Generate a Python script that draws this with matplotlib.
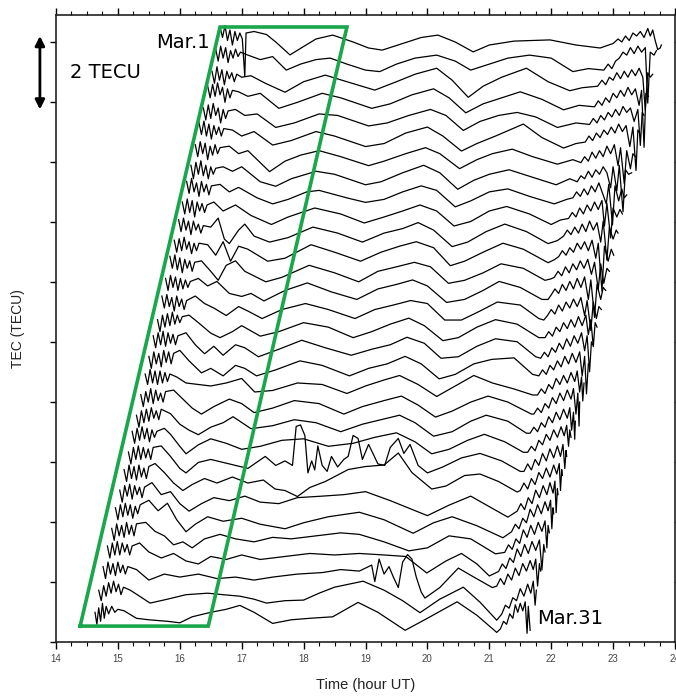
import numpy as np
import matplotlib
matplotlib.use("Agg")
import matplotlib.pyplot as plt

# ---------------- data: (hour UT, TEC deviation in TECU) for each day ----------------
mar01 = [(16.65,.50),(16.69,.15),(16.73,.55),(16.77,.05),(16.81,.40),(16.85,-.10),(16.89,.35),(16.93,.05),(16.97,.30),(17.01,.10),(17.05,-1.15),(17.07,.30),(17.20,.35),(17.40,.25),(17.55,.00),(17.78,-.43),(18.00,-.15),(18.20,.10),(18.47,.23),(18.80,.00),(19.05,-.20),(19.27,-.27),(19.60,-.05),(19.90,.15),(20.17,.23),(20.45,.00),(20.74,-.33),(21.00,-.10),(21.40,.03),(21.98,.07),(22.40,-.10),(22.79,-.20),(23.00,-.05),(23.08,.10),(23.14,.00),(23.20,.20),(23.26,.05),(23.32,.30),(23.38,.20),(23.44,.35),(23.50,.15),(23.56,.45),(23.60,.20),(23.64,.40),(23.68,.05),(23.72,-.25),(23.76,-.20),(23.78,-.10)]
mar02 = [(16.58,.40),(16.62,.00),(16.66,.50),(16.70,.10),(16.74,.45),(16.78,-.05),(16.82,.35),(16.86,.10),(16.90,.40),(16.94,.15),(16.98,.30),(17.10,.20),(17.30,.05),(17.50,.15),(17.72,-.30),(17.95,-.10),(18.20,.05),(18.43,.10),(18.70,-.10),(19.00,-.30),(19.23,-.35),(19.50,-.10),(19.80,.10),(20.15,.20),(20.45,.00),(20.70,-.30),(21.00,-.10),(21.30,.10),(21.65,.20),(22.00,.10),(22.35,-.35),(22.60,-.25),(22.85,-.30),(22.92,-.10),(22.98,-.25),(23.04,.00),(23.10,.10),(23.16,.30),(23.22,.20),(23.28,.45),(23.34,.25),(23.40,.50),(23.46,.30),(23.52,.45),(23.56,-1.40),(23.60,.30),(23.66,.20),(23.70,.35)]
mar03 = [(16.52,.30),(16.56,-.10),(16.60,.45),(16.64,.00),(16.68,.35),(16.72,-.15),(16.76,.30),(16.80,.05),(16.84,.25),(16.88,-.05),(16.92,.20),(17.00,.10),(17.15,.15),(17.38,-.10),(17.70,-.40),(18.00,-.05),(18.35,.17),(18.70,-.05),(19.15,-.33),(19.50,-.05),(19.80,.20),(20.15,.40),(20.40,.00),(20.66,-.57),(20.90,-.20),(21.20,.10),(21.60,.40),(21.95,-.05),(22.30,-.35),(22.50,-.25),(22.75,-.20),(22.82,.00),(22.88,-.15),(22.94,.10),(23.00,.00),(23.06,.25),(23.12,.05),(23.18,.30),(23.24,.10),(23.30,.35),(23.36,.15),(23.42,.40),(23.48,.10),(23.52,-1.00),(23.56,.25),(23.60,.10),(23.64,.20)]
mar04 = [(16.45,.45),(16.49,.05),(16.53,.50),(16.57,.10),(16.61,.55),(16.65,.15),(16.69,.40),(16.73,-.10),(16.77,.35),(16.81,.05),(16.85,.30),(16.95,.25),(17.10,.10),(17.30,.20),(17.60,-.30),(17.90,-.10),(18.30,.20),(18.60,.05),(19.10,-.30),(19.40,-.15),(19.75,.15),(20.10,.35),(20.35,.05),(20.62,-.45),(20.90,-.15),(21.20,.05),(21.50,.25),(21.85,.00),(22.20,-.35),(22.45,-.20),(22.70,-.25),(22.76,-.05),(22.82,-.20),(22.88,.05),(22.94,-.10),(23.00,.20),(23.06,.05),(23.12,.30),(23.18,.10),(23.24,.40),(23.30,.15),(23.36,.35),(23.42,-.20),(23.46,.30),(23.50,-1.60),(23.53,.20),(23.57,.10)]
mar05 = [(16.38,.35),(16.42,-.05),(16.46,.45),(16.50,.00),(16.54,.50),(16.58,.10),(16.62,.35),(16.66,-.15),(16.70,.30),(16.74,.00),(16.78,.25),(16.90,.30),(17.05,.10),(17.25,.15),(17.55,-.30),(17.85,-.15),(18.25,.15),(18.55,.10),(19.05,-.25),(19.35,-.15),(19.70,.10),(20.05,.30),(20.30,.10),(20.58,-.40),(20.85,-.10),(21.15,.10),(21.45,.20),(21.75,.05),(22.10,-.30),(22.40,-.15),(22.62,-.20),(22.68,.00),(22.74,-.15),(22.80,.10),(22.86,-.05),(22.92,.20),(22.98,.05),(23.04,.30),(23.10,.10),(23.16,.40),(23.22,.20),(23.28,.35),(23.34,-.10),(23.40,.30),(23.44,-.90),(23.47,.20),(23.50,.10)]
mar06 = [(16.31,.50),(16.35,.10),(16.39,.55),(16.43,.05),(16.47,.45),(16.51,-.05),(16.55,.40),(16.59,.10),(16.63,.35),(16.67,.05),(16.71,.30),(16.85,.25),(17.00,.05),(17.20,.20),(17.50,-.25),(17.80,-.10),(18.20,.20),(18.50,.05),(19.00,-.30),(19.30,-.20),(19.65,.15),(20.00,.35),(20.25,.05),(20.55,-.45),(20.80,-.20),(21.10,.05),(21.55,.45),(21.85,.00),(22.20,-.35),(22.40,-.20),(22.55,-.15),(22.61,.05),(22.67,-.10),(22.73,.15),(22.79,.00),(22.85,.25),(22.91,.10),(22.97,.35),(23.03,.15),(23.09,.45),(23.15,.20),(23.21,.40),(23.27,-.30),(23.32,.35),(23.37,-1.10),(23.40,.25),(23.43,.15)]
mar07 = [(16.25,.40),(16.29,.00),(16.33,.50),(16.37,.10),(16.41,.45),(16.45,-.10),(16.49,.35),(16.53,.05),(16.57,.40),(16.61,.10),(16.65,.30),(16.80,.35),(16.95,.10),(17.10,.20),(17.45,-.50),(17.70,-.15),(17.95,.05),(18.25,.20),(18.60,.00),(19.05,-.30),(19.30,-.15),(19.65,.10),(19.97,.30),(20.20,.10),(20.52,-.40),(20.80,-.10),(21.05,.10),(21.37,.25),(21.70,.00),(22.10,-.25),(22.35,-.10),(22.48,-.20),(22.54,.00),(22.60,-.15),(22.66,.15),(22.72,-.05),(22.78,.20),(22.84,.00),(22.90,.35),(22.96,.10),(23.02,.40),(23.08,-.30),(23.12,.30),(23.18,-.90),(23.22,.20),(23.28,-.40),(23.32,.10),(23.36,.00)]
mar08 = [(16.18,.35),(16.22,-.10),(16.26,.45),(16.30,.05),(16.34,.50),(16.38,.00),(16.42,.35),(16.46,-.10),(16.50,.30),(16.54,.05),(16.58,.25),(16.70,.30),(16.85,.15),(17.00,.30),(17.30,-.20),(17.55,-.35),(17.80,-.10),(18.20,.15),(18.50,.05),(19.00,-.30),(19.25,-.20),(19.60,.10),(19.94,.35),(20.20,.10),(20.49,-.45),(20.75,-.15),(21.00,.05),(21.32,.20),(21.70,-.05),(22.08,-.30),(22.30,-.10),(22.42,-.20),(22.48,.00),(22.54,-.10),(22.60,.15),(22.66,-.05),(22.72,.20),(22.78,.05),(22.84,.30),(22.90,.10),(22.96,-.40),(23.00,.30),(23.06,-.50),(23.10,.35),(23.16,-1.20),(23.20,.20),(23.25,.05),(23.30,.10)]
mar09 = [(16.11,.45),(16.15,.05),(16.19,.55),(16.23,.10),(16.27,.40),(16.31,-.05),(16.35,.45),(16.39,.10),(16.43,.35),(16.47,.00),(16.51,.30),(16.65,.35),(16.80,.10),(16.95,.25),(17.25,-.10),(17.50,-.30),(17.75,-.15),(18.05,.10),(18.25,.15),(18.70,-.10),(19.00,-.25),(19.30,-.15),(19.60,.10),(19.90,.30),(20.15,.15),(20.45,-.40),(20.70,-.20),(21.00,.10),(21.30,.20),(21.65,-.05),(22.05,-.30),(22.25,-.15),(22.35,-.10),(22.41,.10),(22.47,-.05),(22.53,.20),(22.59,.00),(22.65,.30),(22.71,.10),(22.77,.40),(22.83,.05),(22.89,-.30),(22.93,.35),(22.99,-1.00),(23.03,.30),(23.09,-.20),(23.14,.20),(23.18,-.10),(23.22,.00)]
mar10 = [(16.04,.40),(16.08,.00),(16.12,.50),(16.16,.05),(16.20,.45),(16.24,-.10),(16.28,.40),(16.32,.10),(16.36,.35),(16.40,.05),(16.44,.30),(16.55,.40),(16.70,.10),(16.90,.30),(17.15,-.05),(17.48,-.35),(17.75,-.10),(18.18,.20),(18.60,.00),(18.98,-.30),(19.30,-.10),(19.60,.10),(19.88,.30),(20.15,.10),(20.43,-.40),(20.70,-.25),(21.00,.10),(21.28,.25),(21.65,.00),(22.00,-.35),(22.15,-.20),(22.28,-.15),(22.34,.05),(22.40,-.10),(22.46,.20),(22.52,.00),(22.58,.30),(22.64,.10),(22.70,.40),(22.76,.15),(22.82,.45),(22.86,-.40),(22.90,.35),(22.96,-.80),(23.00,.20),(23.06,-.10),(23.11,.15),(23.15,.00)]
mar11 = [(15.98,.45),(16.02,.05),(16.06,.50),(16.10,.10),(16.14,.40),(16.18,-.05),(16.22,.40),(16.26,.10),(16.30,.30),(16.34,.00),(16.38,.25),(16.50,.20),(16.62,.50),(16.72,-.20),(16.80,-.35),(16.95,.10),(17.05,.30),(17.20,-.10),(17.45,-.30),(17.75,-.15),(18.15,.20),(18.55,.00),(18.95,-.30),(19.30,.00),(19.60,.15),(19.85,.35),(20.10,.10),(20.40,-.45),(20.65,-.30),(20.95,.05),(21.25,.30),(21.60,.05),(21.95,-.35),(22.10,-.25),(22.20,-.10),(22.26,.10),(22.32,-.05),(22.38,.20),(22.44,.00),(22.50,.30),(22.56,.05),(22.62,.40),(22.68,.10),(22.74,.35),(22.80,-.30),(22.84,.40),(22.90,-.90),(22.94,.20),(23.00,-.20),(23.05,.10),(23.08,.00)]
mar12 = [(15.91,.40),(15.95,.00),(15.99,.45),(16.03,.05),(16.07,.50),(16.11,.10),(16.15,.35),(16.19,-.05),(16.23,.30),(16.27,.05),(16.31,.30),(16.45,.25),(16.58,-.10),(16.70,.35),(16.82,-.30),(16.95,.20),(17.10,.10),(17.42,-.30),(17.70,-.20),(18.12,.25),(18.50,.00),(18.92,-.30),(19.25,.00),(19.55,.20),(19.82,.35),(20.10,.15),(20.37,-.45),(20.60,-.30),(20.90,.00),(21.22,.30),(21.55,.10),(21.95,-.35),(22.05,-.25),(22.12,-.15),(22.18,.05),(22.24,-.10),(22.30,.15),(22.36,.00),(22.42,.30),(22.48,.10),(22.54,.35),(22.60,.05),(22.66,.40),(22.72,-.20),(22.76,.30),(22.82,-1.30),(22.86,.20),(22.92,-.30),(22.97,.10),(23.01,-.10)]
mar13 = [(15.84,.50),(15.88,.10),(15.92,.55),(15.96,.05),(16.00,.45),(16.04,-.05),(16.08,.40),(16.12,.10),(16.16,.35),(16.20,.00),(16.24,.30),(16.35,.35),(16.50,.00),(16.62,-.30),(16.75,.20),(16.90,.35),(17.05,.00),(17.39,-.35),(17.65,-.20),(18.09,.20),(18.50,-.05),(18.89,-.35),(19.20,.00),(19.50,.15),(19.79,.30),(20.05,.15),(20.34,-.40),(20.60,-.30),(20.90,-.05),(21.19,.25),(21.55,.10),(21.90,-.30),(22.00,-.25),(22.05,-.20),(22.11,.00),(22.17,-.15),(22.23,.15),(22.29,-.05),(22.35,.25),(22.41,.05),(22.47,.35),(22.53,.10),(22.59,.40),(22.65,-.10),(22.70,.30),(22.76,-.60),(22.80,.25),(22.85,-.40),(22.90,.10),(22.94,.00)]
mar14 = [(15.77,.40),(15.81,.00),(15.85,.50),(15.89,.10),(15.93,.45),(15.97,.00),(16.01,.40),(16.05,.05),(16.09,.35),(16.13,.10),(16.17,.30),(16.30,.40),(16.45,.15),(16.60,.30),(16.80,-.10),(17.00,-.20),(17.15,-.10),(17.36,-.35),(17.70,.00),(18.06,.25),(18.45,-.05),(18.86,-.30),(19.20,.05),(19.50,.20),(19.76,.35),(20.00,.15),(20.31,-.40),(20.60,-.30),(20.90,.00),(21.16,.30),(21.50,.10),(21.85,-.30),(21.95,-.30),(22.00,-.15),(22.06,.05),(22.12,-.10),(22.18,.20),(22.24,.00),(22.30,.30),(22.36,.05),(22.42,.40),(22.48,.10),(22.54,.45),(22.60,-.30),(22.64,.35),(22.70,-.90),(22.74,.20),(22.80,-.30),(22.84,.10),(22.88,.00)]
mar15 = [(15.71,.45),(15.75,.05),(15.79,.50),(15.83,.10),(15.87,.40),(15.91,-.05),(15.95,.45),(15.99,.10),(16.03,.35),(16.07,.00),(16.11,.30),(16.25,.45),(16.40,.20),(16.55,.05),(16.75,-.20),(16.95,.10),(17.10,-.05),(17.33,-.30),(17.65,.00),(18.03,.20),(18.40,.00),(18.83,-.30),(19.15,.00),(19.45,.15),(19.73,.30),(20.00,.20),(20.28,-.35),(20.55,-.35),(20.85,-.05),(21.13,.25),(21.50,.15),(21.80,-.30),(21.88,-.35),(21.94,-.20),(22.00,.00),(22.06,-.15),(22.12,.15),(22.18,-.05),(22.24,.25),(22.30,.05),(22.36,.35),(22.42,.10),(22.48,.40),(22.54,-.20),(22.58,.30),(22.64,-.70),(22.68,.25),(22.73,-.30),(22.77,.10),(22.81,.00)]
mar16 = [(15.64,.30),(15.68,-.10),(15.72,.45),(15.76,.05),(15.80,.50),(15.84,.10),(15.88,.55),(15.92,.15),(15.96,.45),(16.00,.20),(16.04,.40),(16.15,.45),(16.30,.20),(16.50,-.15),(16.65,-.30),(16.85,-.10),(17.00,.10),(17.30,-.25),(17.60,-.10),(18.00,.20),(18.40,.05),(18.80,-.30),(19.10,-.10),(19.40,.15),(19.70,.35),(19.95,.10),(20.25,-.40),(20.50,-.30),(20.80,.05),(21.10,.30),(21.45,.15),(21.80,-.30),(21.90,-.30),(21.96,-.10),(22.02,-.25),(22.08,.05),(22.14,-.10),(22.20,.20),(22.26,.00),(22.32,.30),(22.38,.05),(22.44,.40),(22.50,.10),(22.56,.45),(22.60,-.20),(22.64,.30),(22.68,-.60),(22.71,.20),(22.74,.05)]
mar17 = [(15.57,.40),(15.61,.00),(15.65,.50),(15.69,.10),(15.73,.55),(15.77,.05),(15.81,.50),(15.85,.15),(15.89,.45),(15.93,.10),(15.97,.40),(16.10,.50),(16.25,.10),(16.40,-.20),(16.55,.05),(16.70,-.25),(16.90,.10),(17.05,.00),(17.27,-.30),(17.60,-.05),(17.97,.25),(18.35,.00),(18.77,-.25),(19.10,-.05),(19.40,.10),(19.67,.35),(19.95,.15),(20.22,-.35),(20.50,-.30),(20.80,.05),(21.10,.30),(21.45,.20),(21.75,-.30),(21.83,-.35),(21.89,-.15),(21.95,-.30),(22.01,.00),(22.07,-.15),(22.13,.15),(22.19,-.05),(22.25,.30),(22.31,.05),(22.37,.40),(22.43,.15),(22.49,.50),(22.54,-.10),(22.58,.40),(22.62,-.80),(22.65,.20),(22.67,.10)]
mar18 = [(15.50,.35),(15.54,-.05),(15.58,.50),(15.62,.10),(15.66,.45),(15.70,.00),(15.74,.55),(15.78,.15),(15.82,.50),(15.86,.10),(15.90,.45),(16.00,.55),(16.15,.20),(16.35,-.20),(16.50,-.05),(16.70,-.30),(16.90,.05),(17.05,-.05),(17.24,-.30),(17.55,-.10),(17.94,.20),(18.30,.05),(18.74,-.30),(19.05,-.05),(19.35,.10),(19.64,.35),(19.90,.10),(20.19,-.40),(20.45,-.25),(20.75,.10),(21.04,.25),(21.40,.30),(21.70,-.25),(21.80,-.30),(21.86,-.10),(21.92,-.25),(21.98,.05),(22.04,-.10),(22.10,.20),(22.16,.00),(22.22,.35),(22.28,.10),(22.34,.45),(22.40,.15),(22.46,.50),(22.50,-.30),(22.54,.35),(22.57,-.90),(22.60,.10)]
mar19 = [(15.44,.40),(15.48,.05),(15.52,.55),(15.56,.10),(15.60,.50),(15.64,.05),(15.68,.50),(15.72,.10),(15.76,.45),(15.80,.15),(15.84,.40),(15.95,.30),(16.10,.10),(16.30,.05),(16.50,.00),(16.75,.10),(17.00,.25),(17.21,-.20),(17.50,-.15),(17.90,.10),(18.30,.05),(18.70,-.25),(19.00,.00),(19.30,.20),(19.55,.35),(19.85,.05),(20.15,-.35),(20.45,.00),(20.75,.35),(21.05,.10),(21.40,-.10),(21.70,-.30),(21.78,-.30),(21.84,-.10),(21.90,-.25),(21.96,.05),(22.02,-.10),(22.08,.25),(22.14,.05),(22.20,.35),(22.26,.10),(22.32,.45),(22.38,.15),(22.42,.50),(22.46,-.20),(22.49,.30),(22.51,-.50),(22.53,.10)]
mar20 = [(15.37,.35),(15.41,-.05),(15.45,.45),(15.49,.10),(15.53,.55),(15.57,.05),(15.61,.50),(15.65,.15),(15.69,.40),(15.73,.10),(15.77,.45),(15.90,.50),(16.05,.20),(16.20,-.10),(16.35,-.30),(16.55,-.05),(16.80,.20),(17.00,.05),(17.20,-.25),(17.50,-.10),(17.85,.15),(18.25,.05),(18.65,-.30),(18.95,-.05),(19.30,.15),(19.58,.30),(19.85,.00),(20.13,-.40),(20.40,-.20),(20.70,.10),(20.98,.30),(21.30,.10),(21.68,-.30),(21.72,-.30),(21.78,-.10),(21.84,-.25),(21.90,.05),(21.96,-.10),(22.02,.25),(22.08,.05),(22.14,.40),(22.20,.15),(22.26,.50),(22.32,.20),(22.36,.55),(22.40,-.30),(22.43,.40),(22.45,-.70),(22.46,.10)]
mar21 = [(15.30,.30),(15.34,-.10),(15.38,.45),(15.42,.05),(15.46,.50),(15.50,.10),(15.54,.55),(15.58,.20),(15.62,.45),(15.66,.15),(15.70,.50),(15.85,.35),(16.00,.00),(16.15,-.20),(16.30,-.35),(16.50,-.10),(16.70,.05),(16.86,.25),(17.15,-.15),(17.50,-.05),(17.85,.15),(18.20,.05),(18.60,-.25),(18.95,.00),(19.25,.15),(19.55,.30),(19.80,.05),(20.10,-.40),(20.40,-.25),(20.70,.10),(20.95,.30),(21.30,.10),(21.60,-.30),(21.66,-.30),(21.72,-.10),(21.78,-.25),(21.84,.05),(21.90,-.10),(21.96,.25),(22.02,.05),(22.08,.40),(22.14,.15),(22.20,.50),(22.26,.20),(22.30,.55),(22.33,-.20),(22.36,.40),(22.38,-.50),(22.39,.10)]
mar22 = [(15.23,.40),(15.27,.00),(15.31,.50),(15.35,.10),(15.39,.55),(15.43,.15),(15.47,.50),(15.51,.05),(15.55,.45),(15.59,.20),(15.63,.40),(15.75,.50),(15.85,.30),(16.00,-.10),(16.10,-.35),(16.30,-.05),(16.50,.15),(16.75,.00),(17.00,-.20),(17.30,-.10),(17.65,.10),(18.00,.15),(18.40,-.10),(18.80,.00),(19.15,.20),(19.50,.35),(19.80,.05),(20.07,-.35),(20.35,-.20),(20.65,.10),(20.92,.30),(21.25,.05),(21.55,-.30),(21.62,-.30),(21.68,-.10),(21.74,-.25),(21.80,.10),(21.86,-.05),(21.92,.30),(21.98,.10),(22.04,.45),(22.10,.20),(22.16,.55),(22.21,.25),(22.25,.60),(22.28,-.10),(22.30,.45),(22.32,.20)]
mar23 = [(15.17,.35),(15.21,-.05),(15.25,.50),(15.29,.10),(15.33,.55),(15.37,.10),(15.41,.50),(15.45,.15),(15.49,.45),(15.53,.10),(15.57,.50),(15.70,.55),(15.85,.20),(16.00,-.20),(16.10,-.35),(16.30,.00),(16.50,.10),(16.80,-.05),(17.10,-.20),(17.38,.20),(17.55,-.10),(17.70,.05),(17.82,-.10),(17.88,1.20),(17.95,1.25),(18.02,.90),(18.07,-.35),(18.13,.05),(18.18,-.25),(18.23,.55),(18.30,-.10),(18.38,-.30),(18.45,.20),(18.55,-.15),(18.65,.10),(18.72,.20),(18.80,.90),(18.88,.80),(18.95,.10),(19.05,.60),(19.12,.30),(19.20,-.05),(19.31,-.10),(19.40,.50),(19.53,.80),(19.62,.30),(19.72,.60),(19.85,-.10),(20.00,-.35),(20.25,-.15),(20.55,.15),(20.85,.30),(21.20,.05),(21.50,-.30),(21.56,-.30),(21.62,-.05),(21.68,-.25),(21.74,.10),(21.80,-.10),(21.86,.30),(21.92,.05),(21.98,.45),(22.04,.15),(22.10,.55),(22.15,.20),(22.19,.60),(22.22,-.20),(22.24,.40),(22.25,.20)]
mar24 = [(15.10,.40),(15.14,.00),(15.18,.55),(15.22,.10),(15.26,.50),(15.30,.05),(15.34,.55),(15.38,.15),(15.42,.45),(15.46,.10),(15.50,.50),(15.60,.60),(15.75,.30),(15.90,-.05),(16.05,-.30),(16.20,-.10),(16.40,.10),(16.60,-.05),(16.85,.15),(17.10,-.05),(17.35,.05),(17.54,-.25),(17.70,-.30),(17.90,-.50),(18.10,-.20),(18.35,.00),(18.72,.40),(19.00,.50),(19.30,.55),(19.53,.95),(19.75,.30),(20.07,-.25),(20.30,-.15),(20.60,.20),(20.85,.25),(21.15,.00),(21.45,-.35),(21.50,-.30),(21.56,-.05),(21.62,-.25),(21.68,.10),(21.74,-.10),(21.80,.30),(21.86,.10),(21.92,.45),(21.98,.15),(22.04,.55),(22.09,.25),(22.13,.60),(22.15,-.30),(22.17,.40),(22.18,.20)]
mar25 = [(15.03,.35),(15.07,-.05),(15.11,.50),(15.15,.15),(15.19,.55),(15.23,.05),(15.27,.50),(15.31,.20),(15.35,.45),(15.39,.10),(15.43,.45),(15.55,.60),(15.70,.20),(15.85,.30),(16.00,-.10),(16.15,-.35),(16.35,-.10),(16.55,.10),(16.80,.00),(17.05,.15),(17.30,-.05),(17.60,-.10),(17.90,.10),(18.30,.15),(18.65,.20),(19.00,.30),(19.40,.00),(20.00,-.50),(20.35,-.15),(20.70,.15),(21.00,-.20),(21.30,-.55),(21.45,-.35),(21.51,-.10),(21.57,-.30),(21.63,.10),(21.69,-.10),(21.75,.35),(21.81,.10),(21.87,.50),(21.93,.20),(21.98,.60),(22.03,.25),(22.06,.65),(22.08,-.40),(22.10,.40),(22.11,.20)]
mar26 = [(14.96,.40),(15.00,.00),(15.04,.50),(15.08,.10),(15.12,.55),(15.16,.15),(15.20,.50),(15.24,.05),(15.28,.45),(15.32,.20),(15.36,.50),(15.50,.65),(15.65,.30),(15.80,.55),(15.95,.00),(16.10,-.40),(16.25,-.15),(16.45,.10),(16.70,-.05),(17.00,.05),(17.30,-.15),(17.70,-.30),(18.00,-.10),(18.40,.10),(18.90,.25),(19.30,.00),(19.77,-.45),(20.10,-.10),(20.40,.10),(20.80,-.20),(21.22,-.60),(21.36,-.40),(21.42,-.15),(21.48,-.30),(21.54,.05),(21.60,-.10),(21.66,.35),(21.72,.10),(21.78,.50),(21.84,.20),(21.90,.60),(21.95,.30),(21.99,.65),(22.01,-.30),(22.03,.40),(22.04,.20)]
mar27 = [(14.90,.35),(14.94,-.05),(14.98,.50),(15.02,.10),(15.06,.45),(15.10,.05),(15.14,.55),(15.18,.15),(15.22,.45),(15.26,.10),(15.30,.50),(15.45,.55),(15.60,.25),(15.75,.10),(15.90,-.20),(16.05,-.10),(16.20,-.30),(16.40,.00),(16.65,.15),(16.90,.00),(17.20,-.10),(17.50,.05),(17.80,.00),(18.20,.10),(18.60,.20),(18.90,.15),(19.30,-.10),(19.70,-.40),(20.00,-.30),(20.35,.10),(20.70,.00),(21.10,-.50),(21.25,-.45),(21.31,-.20),(21.37,-.35),(21.43,.00),(21.49,-.15),(21.55,.30),(21.61,.05),(21.67,.45),(21.73,.15),(21.79,.55),(21.85,.25),(21.90,.60),(21.93,-.30),(21.95,.45),(21.97,.20)]
mar28 = [(14.83,.40),(14.87,.00),(14.91,.50),(14.95,.10),(14.99,.55),(15.03,.10),(15.07,.50),(15.11,.20),(15.15,.45),(15.19,.10),(15.23,.40),(15.35,.50),(15.50,.20),(15.70,.00),(15.90,.15),(16.10,-.10),(16.30,-.20),(16.50,.05),(16.75,-.05),(17.00,.10),(17.30,-.05),(17.70,.05),(18.10,.15),(18.50,.10),(18.90,.15),(19.30,.10),(19.65,.05),(19.99,-.50),(20.30,-.10),(20.55,.15),(20.80,-.20),(21.00,-.60),(21.15,-.45),(21.21,-.20),(21.27,-.35),(21.33,.00),(21.39,-.15),(21.45,.30),(21.51,.05),(21.57,.45),(21.63,.15),(21.69,.55),(21.75,.25),(21.81,.60),(21.85,-.40),(21.88,.45),(21.90,.20)]
mar29 = [(14.76,.35),(14.80,-.05),(14.84,.50),(14.88,.10),(14.92,.45),(14.96,.05),(15.00,.50),(15.04,.15),(15.08,.40),(15.12,.10),(15.16,.35),(15.30,.25),(15.50,-.10),(15.75,.10),(16.00,.00),(16.30,.10),(16.60,-.05),(16.90,.00),(17.20,-.10),(17.50,.00),(17.90,.10),(18.30,.15),(18.60,.25),(18.90,.20),(19.05,.35),(19.10,.40),(19.15,-.15),(19.22,.60),(19.30,.10),(19.38,.35),(19.45,.00),(19.53,-.35),(19.60,.50),(19.68,.75),(19.75,.60),(19.82,.00),(19.90,-.50),(19.96,-.70),(20.20,-.35),(20.50,.30),(20.75,.00),(21.05,-.35),(21.12,-.30),(21.18,-.05),(21.24,-.25),(21.30,.10),(21.36,-.10),(21.42,.30),(21.48,.05),(21.54,.45),(21.60,.20),(21.66,.55),(21.71,.25),(21.75,.60),(21.78,-.30),(21.81,.45),(21.83,.20)]
mar30 = [(14.69,.20),(14.73,-.15),(14.77,.35),(14.81,.00),(14.85,.45),(14.89,.10),(14.93,.50),(14.97,.15),(15.01,.40),(15.05,.05),(15.09,.30),(15.20,.20),(15.35,.00),(15.52,-.23),(15.80,-.10),(16.10,.05),(16.45,.10),(16.70,.05),(16.97,.00),(17.20,-.10),(17.40,-.23),(17.70,-.15),(18.00,-.13),(18.25,.10),(18.50,.30),(18.96,.50),(19.30,.20),(19.60,-.15),(19.88,-.55),(20.20,-.10),(20.58,.30),(20.85,-.20),(21.12,-.80),(21.20,-.60),(21.26,-.30),(21.32,-.40),(21.38,-.05),(21.44,-.15),(21.50,.25),(21.56,.00),(21.62,.40),(21.67,.10),(21.71,.50),(21.74,-.30),(21.76,.20)]
mar31 = [(14.63,.10),(14.66,-.30),(14.69,.25),(14.72,-.20),(14.75,.40),(14.78,-.10),(14.81,.30),(14.85,.05),(14.90,.30),(14.95,.10),(15.00,.20),(15.10,.15),(15.30,-.10),(15.50,-.15),(15.80,-.20),(16.00,-.25),(16.20,-.05),(16.50,.10),(16.75,.20),(16.97,.33),(17.20,.10),(17.50,-.27),(17.80,-.15),(18.10,-.10),(18.47,-.05),(18.88,.43),(19.20,.10),(19.64,-.50),(20.00,-.10),(20.48,.45),(20.80,.00),(21.12,-.57),(21.18,-.45),(21.23,-.20),(21.28,-.30),(21.33,.05),(21.38,-.10),(21.42,.35),(21.46,.10),(21.50,.40),(21.54,.15),(21.58,.45),(21.61,-.60),(21.63,.30),(21.66,-.50)]

days = [mar01, mar02, mar03, mar04, mar05, mar06, mar07, mar08, mar09, mar10,
        mar11, mar12, mar13, mar14, mar15, mar16, mar17, mar18, mar19, mar20,
        mar21, mar22, mar23, mar24, mar25, mar26, mar27, mar28, mar29, mar30, mar31]

x_ticks = [14, 15, 16, 17, 18, 19, 20, 21, 22, 23, 24]
box_hours = [14.39, 16.65, 18.70, 16.46, 14.39]
box_tec = [0.53, 20.5, 20.5, 0.53, 0.53]

# ---------------- layout ----------------
W, H = 676, 697
fig = plt.figure(figsize=(W / 100, H / 100), dpi=100)
ax = fig.add_axes([56 / W, 1 - 642 / H, (675 - 56) / W, (642 - 15) / H])
ax.set_xlim(14, 24)
ax.set_ylim(0, 20.9)

top_level = 20.0      # stacking level of the first day (TECU)
spacing = 0.637       # vertical stacking step between days (TECU)

for k, pts in enumerate(days):
    hrs = np.array([p[0] for p in pts])
    tec = np.array([p[1] for p in pts])
    ax.plot(hrs, tec + top_level - k * spacing, color="black", lw=0.9,
            solid_joinstyle="round")

ax.plot(box_hours, box_tec, color="#1aa64c", lw=2.6, solid_joinstyle="miter")

# scale arrow and labels
ax.annotate("", xy=(13.74, 20.2), xytext=(13.74, 17.75),
            arrowprops=dict(arrowstyle="<|-|>", lw=2.0, color="black",
                            mutation_scale=14, shrinkA=0, shrinkB=0),
            annotation_clip=False)
ax.text(14.23, 19.0, "2 TECU", fontsize=14, color="black", va="center", ha="left")
ax.text(16.49, 20.0, "Mar.1", fontsize=14, color="black", va="center", ha="right")
ax.text(21.77, 0.77, "Mar.31", fontsize=14, color="black", va="center", ha="left")

# axes styling
ax.set_xticks(x_ticks)
ax.set_xticks(np.arange(14, 24.01, 0.25), minor=True)
ax.set_yticks(np.arange(0, 20.1, 2))
ax.tick_params(axis="x", which="major", direction="out", length=5, width=1,
               top=True, labelsize=7, labelcolor="#444444", pad=4)
ax.tick_params(axis="x", which="minor", direction="out", length=3, width=0.8, top=True)
ax.tick_params(axis="y", which="major", direction="out", length=4, width=1,
               right=True, labelleft=False)
for s in ax.spines.values():
    s.set_linewidth(1.2)
    s.set_color("#222222")

ax.set_xlabel("Time (hour UT)", fontsize=10.5, family="Liberation Sans",
              color="#222222", labelpad=10)
ax.set_ylabel("TEC (TECU)", fontsize=10, family="Liberation Sans",
              color="#222222", labelpad=18)
for lab in ax.get_xticklabels():
    lab.set_family("Liberation Sans")

fig.savefig("out.png", dpi=100, facecolor="white")
